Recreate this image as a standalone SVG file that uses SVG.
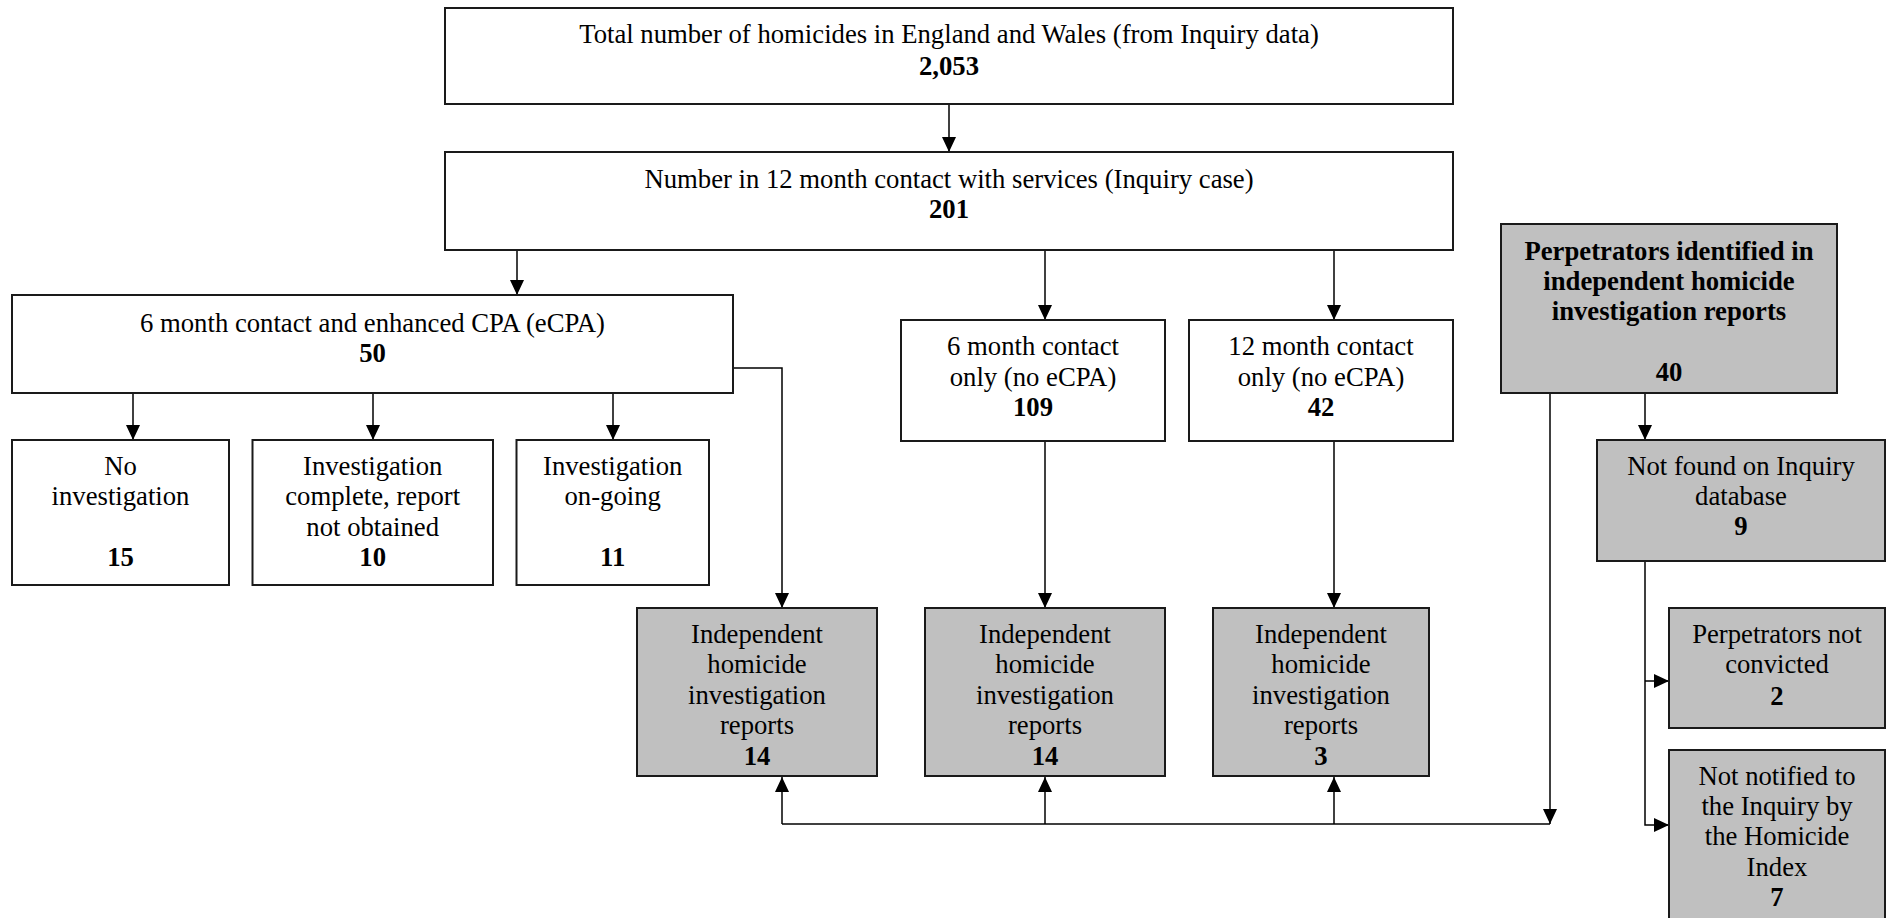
<svg xmlns="http://www.w3.org/2000/svg" width="1890" height="918" viewBox="0 0 1890 918">
<defs>
<style>
.box{fill:#ffffff;stroke:#1a1a1a;stroke-width:2}
.grey{fill:#c0c0c0;stroke:#1a1a1a;stroke-width:2}
.t{font-family:"Liberation Serif","Times New Roman",serif;font-size:26.7px;fill:#000;text-anchor:middle}
.b{font-weight:bold}
.ln{fill:none;stroke:#000;stroke-width:1.5}
</style>
<marker id="ah" markerUnits="userSpaceOnUse" markerWidth="16" markerHeight="16" refX="15" refY="7" orient="auto">
<path d="M0,0 L15,7 L0,14 z" fill="#000"/>
</marker>
</defs>
<rect width="1890" height="918" fill="#fff"/>

<g id="connectors">
<line class="ln" x1="949" y1="104" x2="949" y2="152" marker-end="url(#ah)"/>
<line class="ln" x1="517" y1="250" x2="517" y2="295" marker-end="url(#ah)"/>
<line class="ln" x1="1045" y1="250" x2="1045" y2="320" marker-end="url(#ah)"/>
<line class="ln" x1="1334" y1="250" x2="1334" y2="320" marker-end="url(#ah)"/>
<line class="ln" x1="133" y1="393" x2="133" y2="440" marker-end="url(#ah)"/>
<line class="ln" x1="373" y1="393" x2="373" y2="440" marker-end="url(#ah)"/>
<line class="ln" x1="613" y1="393" x2="613" y2="440" marker-end="url(#ah)"/>
<polyline class="ln" points="733,368 782,368 782,608" marker-end="url(#ah)"/>
<line class="ln" x1="1045" y1="441" x2="1045" y2="608" marker-end="url(#ah)"/>
<line class="ln" x1="1334" y1="441" x2="1334" y2="608" marker-end="url(#ah)"/>
<line class="ln" x1="1645" y1="393" x2="1645" y2="440" marker-end="url(#ah)"/>
<line class="ln" x1="1550" y1="393" x2="1550" y2="824" marker-end="url(#ah)"/>
<line class="ln" x1="782" y1="824" x2="1550" y2="824"/>
<line class="ln" x1="782" y1="824" x2="782" y2="777" marker-end="url(#ah)"/>
<line class="ln" x1="1045" y1="824" x2="1045" y2="777" marker-end="url(#ah)"/>
<line class="ln" x1="1334" y1="824" x2="1334" y2="777" marker-end="url(#ah)"/>
<polyline class="ln" points="1645,561 1645,825 1669,825" marker-end="url(#ah)"/>
<polyline class="ln" points="1645,681 1669,681" marker-end="url(#ah)"/>
</g>

<g id="total">
<rect class="box" x="445" y="8" width="1008" height="96"/>
<text class="t" x="949" y="43">Total number of homicides in England and Wales (from Inquiry data)</text>
<text class="t b" x="949" y="75">2,053</text>
</g>

<g id="contact12">
<rect class="box" x="445" y="152" width="1008" height="98"/>
<text class="t" x="949" y="188">Number in 12 month contact with services (Inquiry case)</text>
<text class="t b" x="949" y="218">201</text>
</g>

<g id="ecpa">
<rect class="box" x="12" y="295" width="721" height="98"/>
<text class="t" x="372.5" y="332">6 month contact and enhanced CPA (eCPA)</text>
<text class="t b" x="372.5" y="362">50</text>
</g>

<g id="six-only">
<rect class="box" x="901" y="320" width="264" height="121"/>
<text class="t" x="1033" y="355">6 month contact</text>
<text class="t" x="1033" y="386">only (no eCPA)</text>
<text class="t b" x="1033" y="416">109</text>
</g>

<g id="twelve-only">
<rect class="box" x="1189" y="320" width="264" height="121"/>
<text class="t" x="1321" y="355">12 month contact</text>
<text class="t" x="1321" y="386">only (no eCPA)</text>
<text class="t b" x="1321" y="416">42</text>
</g>

<g id="perpetrators">
<rect class="grey" x="1501" y="224" width="336" height="169"/>
<text class="t b" x="1669" y="260">Perpetrators identified in</text>
<text class="t b" x="1669" y="290">independent homicide</text>
<text class="t b" x="1669" y="320">investigation reports</text>
<text class="t b" x="1669" y="381">40</text>
</g>

<g id="no-investigation">
<rect class="box" x="12" y="440" width="217" height="145"/>
<text class="t" x="120.5" y="475">No</text>
<text class="t" x="120.5" y="505">investigation</text>
<text class="t b" x="120.5" y="566">15</text>
</g>

<g id="not-obtained">
<rect class="box" x="252.5" y="440" width="240.5" height="145"/>
<text class="t" x="372.7" y="475">Investigation</text>
<text class="t" x="372.7" y="505">complete, report</text>
<text class="t" x="372.7" y="536">not obtained</text>
<text class="t b" x="372.7" y="566">10</text>
</g>

<g id="on-going">
<rect class="box" x="516.5" y="440" width="192.5" height="145"/>
<text class="t" x="612.7" y="475">Investigation</text>
<text class="t" x="612.7" y="505">on-going</text>
<text class="t b" x="612.7" y="566">11</text>
</g>

<g id="reports-ecpa">
<rect class="grey" x="637" y="608" width="240" height="168"/>
<text class="t" x="757" y="643">Independent</text>
<text class="t" x="757" y="673">homicide</text>
<text class="t" x="757" y="704">investigation</text>
<text class="t" x="757" y="734">reports</text>
<text class="t b" x="757" y="765">14</text>
</g>

<g id="reports-six">
<rect class="grey" x="925" y="608" width="240" height="168"/>
<text class="t" x="1045" y="643">Independent</text>
<text class="t" x="1045" y="673">homicide</text>
<text class="t" x="1045" y="704">investigation</text>
<text class="t" x="1045" y="734">reports</text>
<text class="t b" x="1045" y="765">14</text>
</g>

<g id="reports-twelve">
<rect class="grey" x="1213" y="608" width="216" height="168"/>
<text class="t" x="1321" y="643">Independent</text>
<text class="t" x="1321" y="673">homicide</text>
<text class="t" x="1321" y="704">investigation</text>
<text class="t" x="1321" y="734">reports</text>
<text class="t b" x="1321" y="765">3</text>
</g>

<g id="not-found">
<rect class="grey" x="1597" y="440" width="288" height="121"/>
<text class="t" x="1741" y="475">Not found on Inquiry</text>
<text class="t" x="1741" y="505">database</text>
<text class="t b" x="1741" y="535">9</text>
</g>

<g id="not-convicted">
<rect class="grey" x="1669" y="608" width="216" height="120"/>
<text class="t" x="1777" y="643">Perpetrators not</text>
<text class="t" x="1777" y="673">convicted</text>
<text class="t b" x="1777" y="705">2</text>
</g>

<g id="not-notified">
<rect class="grey" x="1669" y="750" width="216" height="180"/>
<text class="t" x="1777" y="785">Not notified to</text>
<text class="t" x="1777" y="815">the Inquiry by</text>
<text class="t" x="1777" y="845">the Homicide</text>
<text class="t" x="1777" y="876">Index</text>
<text class="t b" x="1777" y="906">7</text>
</g>
</svg>
